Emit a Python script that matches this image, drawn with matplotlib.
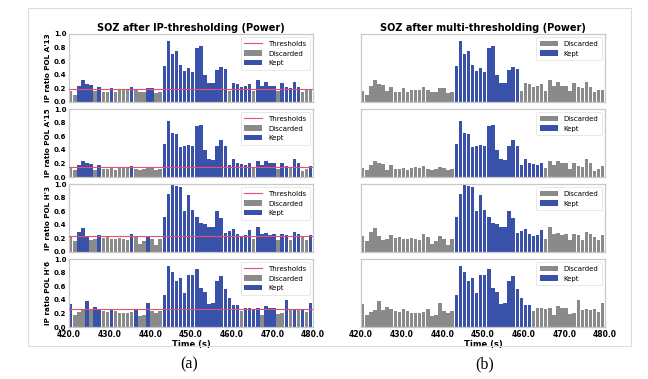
import numpy as np
import matplotlib
matplotlib.use("Agg")
import matplotlib.pyplot as plt
from matplotlib.patches import Patch, Rectangle
from matplotlib.lines import Line2D

# ---------------- data ----------------
t_start = 420
channels = ["A'13", "A'15", "H'3", "H'6"]

ratio_A13 = [.16, .11, .23, .32, .26, .25, .16, .22, .15, .15, .20, .15, .17, .17, .18, .22, .17, .14, .14, .20, .21, .13, .14,
             .53, .90, .71, .75, .54, .45, .50, .44, .79, .83, .40, .28, .28, .47, .52, .49,
             .16, .28, .26, .22, .24, .26, .16, .32, .23, .30, .23, .24, .16, .28, .22, .20, .30, .22, .15, .18, .18]
ratio_A15 = [.13, .10, .17, .24, .20, .19, .11, .17, .12, .12, .13, .10, .13, .14, .13, .16, .12, .10, .12, .14, .13, .10, .12,
             .49, .82, .65, .63, .44, .46, .47, .46, .75, .77, .40, .27, .25, .45, .54, .45, .17, .26, .21, .19, .18, .20,
             .13, .24, .17, .23, .21, .21, .12, .20, .16, .14, .26, .20, .09, .12, .16]
ratio_H3 = [.23, .16, .29, .36, .24, .17, .19, .25, .20, .22, .19, .19, .20, .19, .18, .26, .22, .12, .16, .24, .19, .10, .19,
            .51, .85, 1.0, .97, .96, .61, .84, .62, .52, .42, .41, .37, .37, .60, .50, .28, .31, .34, .26, .24, .25, .33,
            .19, .37, .26, .28, .25, .26, .17, .27, .25, .17, .29, .27, .22, .18, .25]
ratio_H6 = [.34, .17, .22, .25, .38, .25, .29, .27, .24, .22, .27, .24, .21, .21, .21, .22, .27, .16, .18, .35, .24, .21, .24,
            .47, .89, .81, .67, .72, .50, .76, .76, .86, .58, .52, .34, .36, .67, .75, .56, .42, .33, .33,
            .24, .28, .28, .27, .28, .18, .31, .28, .28, .19, .21, .40, .25, .27, .25, .27, .22, .35]
ratios = [ratio_A13, ratio_A15, ratio_H3, ratio_H6]

thresholds = [0.19, 0.15, 0.23, 0.26]

# kept segment after multi-thresholding (first index, end index exclusive)
multi_kept_start = [23, 23, 23, 23]
multi_kept_end = [39, 45, 45, 42]

x_ticks = [420, 430, 440, 450, 460, 470, 480]
y_ticks = [0.0, 0.2, 0.4, 0.6, 0.8, 1.0]

# ---------------- style ----------------
BLUE = "#3a51a9"
GRAY = "#8a8a8a"
RED = "#e8506a"
SPINE = "#c8c8c8"

W, H = 648, 379
fig = plt.figure(figsize=(W / 100, H / 100), dpi=100)

# outer frame
fig.patches.append(Rectangle((28 / W, 1 - 346 / H), 603 / W, 338 / H, transform=fig.transFigure,
                             fill=False, edgecolor="#dddddd", linewidth=0.8))

lefts = [69 / W, 361 / W]
width = 244 / W
tops = [34, 109, 184, 259]
ph = 68

def style_axes(ax):
    for s in ax.spines.values():
        s.set_color(SPINE)
        s.set_linewidth(0.9)
    ax.set_xlim(420, 480)
    ax.set_ylim(0, 1.0)
    ax.tick_params(length=0, pad=2)

for col in range(2):
    for row in range(4):
        vals = np.array(ratios[row])
        n = len(vals)
        xs = t_start + np.arange(n)
        if col == 0:
            kept = vals > thresholds[row]
        else:
            kept = np.zeros(n, dtype=bool)
            kept[multi_kept_start[row]:multi_kept_end[row]] = True
        bottom = 1 - (tops[row] + ph) / H
        ax = fig.add_axes([lefts[col], bottom, width, ph / H])
        style_axes(ax)
        colors = [BLUE if k else GRAY for k in kept]
        ax.bar(xs, vals, width=0.86, align="edge", color=colors, linewidth=0)
        handles = []
        if col == 0:
            ax.axhline(thresholds[row], color=RED, linewidth=0.8, zorder=3)
            handles.append(Line2D([0], [0], color=RED, linewidth=0.8, label="Thresholds"))
            ax.set_yticks(y_ticks)
            ax.set_yticklabels([f"{v:.1f}" for v in y_ticks], fontsize=5, fontweight="bold")
            ax.set_ylabel(f"IP ratio POL {channels[row]}", fontsize=5.2, fontweight="bold", labelpad=2)
        else:
            ax.set_yticks([])
        handles.append(Patch(facecolor=GRAY, label="Discarded"))
        handles.append(Patch(facecolor=BLUE, label="Kept"))
        leg = ax.legend(handles=handles, loc="upper right", fontsize=5, frameon=True,
                        handlelength=2.6, handleheight=0.8, borderaxespad=0.5,
                        labelspacing=0.5, borderpad=0.5, handletextpad=0.8)
        leg.get_frame().set_edgecolor("#dddddd")
        leg.get_frame().set_linewidth(0.6)
        if row == 3:
            ax.set_xticks(x_ticks)
            ax.set_xticklabels([f"{v:.1f}" for v in x_ticks], fontsize=5.5, fontweight="bold")
            ax.set_xlabel("Time (s)", fontsize=6, fontweight="bold", labelpad=1)
        else:
            ax.set_xticks([])
        if row == 0:
            title = "SOZ after IP-thresholding (Power)" if col == 0 else "SOZ after multi-thresholding (Power)"
            ax.set_title(title, fontsize=7, fontweight="bold", pad=2)

fig.text(189 / W, 1 - 364 / H, "(a)", fontsize=11.5, family="Liberation Serif", ha="center", va="center")
fig.text(485 / W, 1 - 364 / H, "(b)", fontsize=11.5, family="Liberation Serif", ha="center", va="center")

fig.savefig("out.png", dpi=100)
